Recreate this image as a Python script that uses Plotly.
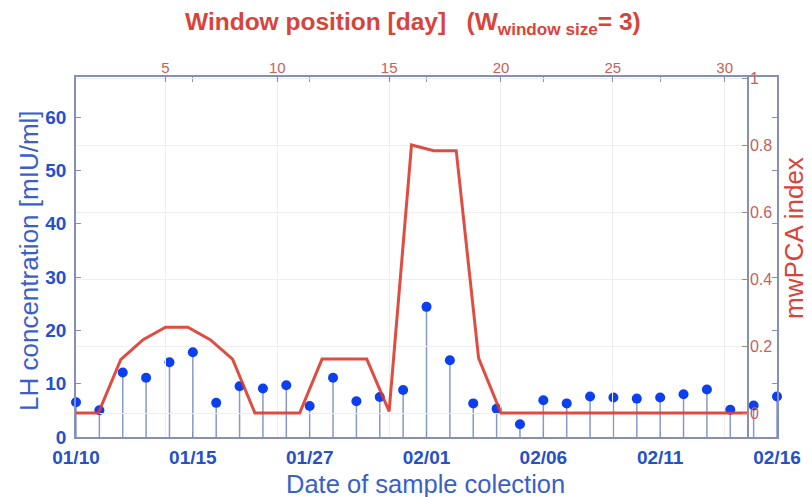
import plotly.graph_objects as go

# LH samples (one per collection date, indexed 1..31)
sample_index = list(range(1, 32))
lh_values = [6.5, 5.0, 12.1, 11.1, 14.0, 15.9, 6.4, 9.5, 9.1, 9.7,
             5.8, 11.1, 6.7, 7.5, 8.8, 24.4, 14.4, 6.3, 5.3, 2.4,
             6.9, 6.3, 7.6, 7.4, 7.2, 7.4, 8.0, 8.9, 5.1, 5.9, 7.6]
date_tick_index = [1, 6, 11, 16, 21, 26, 31]
date_tick_text = ["01/10", "01/15", "01/27", "02/01", "02/06", "02/11", "02/16"]
lh_ticks = [0, 10, 20, 30, 40, 50, 60]

# moving-window PCA index per window position
window_position = list(range(1, 32))
mwpca_index = [0.0, 0.0, 0.159, 0.219, 0.256, 0.256, 0.219, 0.161, 0.0, 0.0,
               0.0, 0.161, 0.161, 0.161, 0.005, 0.80, 0.783, 0.783, 0.164, 0.0,
               0.0, 0.0, 0.0, 0.0, 0.0, 0.0, 0.0, 0.0, 0.0, 0.0, 0.0]
window_ticks = [5, 10, 15, 20, 25, 30]
mwpca_ticks = [0, 0.2, 0.4, 0.6, 0.8, 1]
mwpca_tick_text = ["0", "0.2", "0.4", "0.6", "0.8", "1"]

W, H = 812, 497
L, R, T, B = 76, 35, 77, 60
plot_w = W - L - R
plot_h = H - T - B
red_axis_end = (747 - L) / plot_w

BLUE_MARK = "#0b3ff0"
BLUE_TXT = "#2550c8"
BLUE_TITLE = "#3a60c8"
STEM = "#8898c8"
FRAME = "#8590b8"
RED = "#dc3a2e"
RED_TXT = "#c4625a"
RED_TITLE = "#d8443a"
GRID = "#eeeeee"
FONT = "Liberation Sans"

stem_x = [v for i in sample_index for v in (i, i, None)]
stem_y = [v for val in lh_values for v in (0, val, None)]

fig = go.Figure()
fig.add_trace(go.Scatter(x=stem_x, y=stem_y, mode="lines",
                         line=dict(color=STEM, width=1.5),
                         hoverinfo="skip", showlegend=False,
                         xaxis="x", yaxis="y", cliponaxis=False))
fig.add_trace(go.Scatter(x=sample_index, y=lh_values, mode="markers",
                         marker=dict(color=BLUE_MARK, size=10),
                         showlegend=False, xaxis="x", yaxis="y",
                         cliponaxis=False))
fig.add_trace(go.Scatter(x=window_position, y=mwpca_index, mode="lines",
                         line=dict(color=RED, width=3), opacity=0.9,
                         showlegend=False, xaxis="x2", yaxis="y2"))

fig.update_layout(
    width=W, height=H,
    margin=dict(l=L, r=R, t=T, b=B),
    paper_bgcolor="white", plot_bgcolor="rgba(0,0,0,0)",
    font=dict(family=FONT),
    xaxis=dict(domain=[0, 1], anchor="y", range=[1, 31],
               tickvals=date_tick_index, ticktext=date_tick_text,
               ticks="inside", ticklen=5, tickcolor=FRAME,
               mirror="ticks", showline=True, linecolor=FRAME, linewidth=1.5,
               showgrid=False, zeroline=False, ticklabelstandoff=2,
               tickfont=dict(size=19, color=BLUE_TXT, weight="bold")),
    yaxis=dict(domain=[0, 1], anchor="x", range=[0, 67.5],
               tickvals=lh_ticks, ticks="inside", ticklen=5, tickcolor=FRAME,
               mirror="ticks", showline=True, linecolor=FRAME, linewidth=1.5,
               showgrid=False, zeroline=False, ticklabelstandoff=4,
               tickfont=dict(size=19, color=BLUE_TXT, weight="bold")),
    xaxis2=dict(domain=[0, red_axis_end], anchor="y2", side="top",
                range=[1, 31], tickvals=window_ticks,
                ticks="inside", ticklen=5, tickcolor="#8c8c9c",
                showline=True, linecolor=FRAME, linewidth=1.5,
                showgrid=True, gridcolor=GRID, zeroline=False,
                ticklabelstandoff=-4,
                tickfont=dict(size=15, color=RED_TXT)),
    yaxis2=dict(domain=[0, 1], anchor="x2", side="right",
                range=[-0.0716, 1.003], tickvals=mwpca_ticks,
                ticktext=mwpca_tick_text,
                ticks="inside", ticklen=5, tickcolor="#8c8c9c",
                showline=True, linecolor=FRAME, linewidth=1.5,
                showgrid=True, gridcolor=GRID, zeroline=False,
                ticklabelstandoff=-2,
                tickfont=dict(size=16, color=RED_TXT)),
    annotations=[
        dict(text="Window position [day]   (W<sub>window size</sub>= 3)",
             xref="paper", yref="paper",
             x=(413 - L) / plot_w, y=1 + (T - 23) / plot_h,
             xanchor="center", yanchor="middle", showarrow=False,
             font=dict(size=24.5, color=RED_TITLE, weight="bold")),
        dict(text="LH concentration [mIU/ml]", textangle=-90,
             xref="paper", yref="paper",
             x=(29 - L) / plot_w, y=(437 - 261) / plot_h,
             xanchor="center", yanchor="middle", showarrow=False,
             font=dict(size=26, color=BLUE_TITLE)),
        dict(text="Date of sample colection",
             xref="paper", yref="paper",
             x=(425 - L) / plot_w, y=(437 - 484) / plot_h,
             xanchor="center", yanchor="middle", showarrow=False,
             font=dict(size=25.5, color=BLUE_TITLE)),
        dict(text="mwPCA index", textangle=-90,
             xref="paper", yref="paper",
             x=(794 - L) / plot_w, y=(437 - 238) / plot_h,
             xanchor="center", yanchor="middle", showarrow=False,
             font=dict(size=26, color=RED_TITLE)),
    ],
)

fig.write_html("out.html")
